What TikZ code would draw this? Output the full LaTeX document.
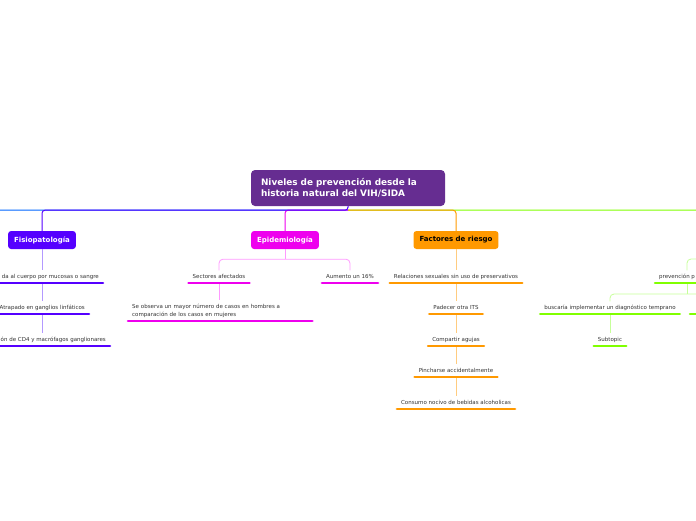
\documentclass[tikz,border=0pt]{standalone}
\usepackage{fontspec}
\setmainfont{DejaVu Sans}
\usetikzlibrary{positioning, calc}

\definecolor{rootpurple}{HTML}{662D91}
\definecolor{fisio}{HTML}{5500FF}
\definecolor{fisiolight}{HTML}{B399FF}
\definecolor{epi}{HTML}{EE00EE}
\definecolor{epilight}{HTML}{FF99FF}
\definecolor{riesgo}{HTML}{FF9900}
\definecolor{riesgolight}{HTML}{FFCC80}
\definecolor{prev}{HTML}{80FF00}
\definecolor{prevlight}{HTML}{C6FF99}
\definecolor{farblue}{HTML}{0066FF}
\definecolor{subtext}{HTML}{333333}

\tikzset{
    root/.style={rounded corners=4pt, fill=rootpurple, text=white, align=left,
        text width=174pt, inner xsep=10pt, minimum height=36pt,
        font=\fontsize{8.9}{11}\bfseries\selectfont},
    topic/.style={rounded corners=3pt, text=white, minimum height=18pt, inner xsep=6pt,
        font=\fontsize{7}{8}\bfseries\selectfont},
    sub/.style={text=subtext, inner xsep=4pt, inner ysep=3.5pt, text height=4pt, text depth=1.2pt,
        font=\fontsize{5.5}{8}\selectfont},
    uline/.style={line width=2.6pt, line cap=round},
    link/.style={line width=0.8pt, rounded corners=4pt},
    mline/.style={line width=1pt, rounded corners=3pt}
}

\begin{document}
\begin{tikzpicture}[x=1pt, y=-1pt]
    \clip (0,0) rectangle (696,520);

    % central topic and main topics
    \node [root] (Nr) at (348,188) {Niveles de prevención desde la\\historia natural del VIH/SIDA};
    \node [topic, fill=fisio] (Np) at (42,240) {Fisiopatología};
    \node [topic, fill=epi] (Ne) at (285,240) {Epidemiología};
    \node [topic, fill=riesgo, text=black] (Nf) at (456,240) {Factores de riesgo};
    \coordinate (Rj) at ($(Nr.south)+(0,4)$);
    \coordinate (Lf) at (-10,210);
    \coordinate (Gf) at (710,210);

    \draw [mline, farblue] (Rj) -- (Lf);
    \draw [mline, prev] (Rj) -- (Gf);
    \draw [mline, riesgo] (Rj) -| (Nf.north);
    \draw [mline, epi] (Rj) -| (Ne.north);
    \draw [mline, fisio] (Nr.south) -- (Rj) -| (Np.north);

    % Fisiopatologia
    \node [sub, anchor=south east] (Pa) at (103,283) {da al cuerpo por mucosas o sangre};
    \node [sub, anchor=south east] (Pb) at (89,314) {Atrapado en ganglios linfáticos};
    \node [sub, anchor=south east] (Pc) at (110,346) {ón de CD4 y macrófagos ganglionares};
    \draw [link, fisiolight] (Np.south) -- (Np.south |- Pa.north);
    \draw [link, fisiolight] (Np.south |- Pa.south) -- (Np.south |- Pb.north);
    \draw [link, fisiolight] (Np.south |- Pb.south) -- (Np.south |- Pc.north);
    \foreach \n in {Pa, Pb, Pc}
        \draw [uline, fisio] ([xshift=-30pt]\n.south west) -- (\n.south east);

    % Epidemiologia
    \node [sub, anchor=south] (Ea) at (219,283) {Sectores afectados};
    \node [sub, anchor=south] (Eb) at (350,283) {Aumento un 16\%};
    \node [sub, anchor=south west, align=left, text width=176pt, text depth=9.2pt] (Ec) at (128,321)
        {Se observa un mayor número de casos en hombres a\\comparación de los casos en mujeres};
    \coordinate (Ej) at ($(Ne.south)+(0,10)$);
    \draw [link, epilight] (Ne.south) -- (Ej);
    \draw [link, epilight] (Ea.north) |- (Ej) -| (Eb.north);
    \draw [link, epilight] (Ea.south) -- (Ea.south |- Ec.north);
    \foreach \n in {Ea, Eb, Ec}
        \draw [uline, epi] (\n.south west) -- (\n.south east);

    % Factores de riesgo
    \node [sub, anchor=south] (Ra) at (456,283) {Relaciones sexuales sin uso de preservativos};
    \node [sub, anchor=south] (Rb) at (456,314) {Padecer otra ITS};
    \node [sub, anchor=south] (Rc) at (456,346) {Compartir agujas};
    \node [sub, anchor=south] (Rd) at (456,377) {Pincharse accidentalmente};
    \node [sub, anchor=south] (Re) at (456,409) {Consumo nocivo de bebidas alcoholicas};
    \foreach \a/\b in {Nf/Ra, Ra/Rb, Rb/Rc, Rc/Rd, Rd/Re}
        \draw [link, riesgolight] (\a.south) -- (\b.north);
    \foreach \n in {Ra, Rb, Rc, Rd, Re}
        \draw [uline, riesgo] (\n.south west) -- (\n.south east);

    % prevencion (cut at the right edge)
    \node [sub, anchor=south west] (Va) at (655,283) {prevención p};
    \node [sub, anchor=south] (Vb) at (610,314) {buscaría implementar un diagnóstico temprano};
    \node [sub, anchor=south] (Vc) at (610,346) {Subtopic};
    \coordinate (Gt) at (720,259);
    \coordinate (Vj) at ($(Va.south west)+(32,11)$);
    \coordinate (Vk) at (720,294);
    \draw [link, prevlight] ([xshift=32pt]Va.north west) |- (Gt);
    \draw [link, prevlight] ([xshift=32pt]Va.south west) -- (Vj);
    \draw [link, prevlight] (Vb.north) |- (Vk);
    \draw [link, prevlight] (Vb.south) -- (Vc.north);
    \draw [uline, prev] (Va.south west) -- ([xshift=30pt]Va.south east);
    \foreach \n in {Vb, Vc}
        \draw [uline, prev] (\n.south west) -- (\n.south east);
    \draw [uline, prev] (690,314) -- (712,314);
\end{tikzpicture}
\end{document}
